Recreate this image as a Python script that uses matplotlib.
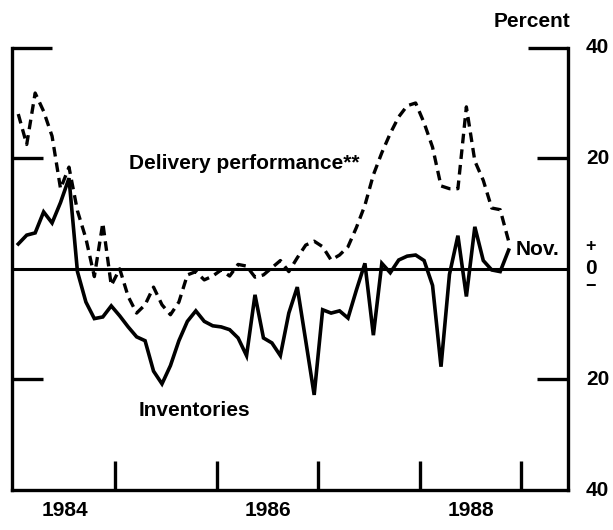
import numpy as np
import matplotlib
matplotlib.use("Agg")
import matplotlib.pyplot as plt
import matplotlib.transforms as mtransforms

plt.rcParams['font.family'] = ['Liberation Sans', 'DejaVu Sans']
plt.rcParams['font.weight'] = 'bold'
plt.rcParams['font.size'] = 15

# monthly, Jan 1984 - Nov 1988 (percent)
inventories = [4.5, 6.1, 6.5, 10.3, 8.3, 12.0, 16.4, -0.5, -6.0, -9.0,
               -8.7, -6.7, -8.5, -10.5, -12.3, -13.0, -18.5, -20.8, -17.5, -13.0,
               -9.5, -7.6, -9.5, -10.3, -10.5, -11.0, -12.5, -15.7, -4.7, -12.5,
               -13.4, -15.7, -8.0, -3.3, -13.0, -22.8, -7.4, -8.0, -7.6, -8.9,
               -3.8, 1.0, -12.0, 1.0, -0.7, 1.6, 2.3, 2.5, 1.5, -3.0,
               -17.7, -1.0, 6.0, -5.0, 7.6, 1.5, -0.2, -0.5, 3.4]
delivery = [28.0, 22.5, 31.8, 28.5, 24.0, 14.5, 18.4, 10.5, 5.5, -1.4,
            8.3, -3.0, 0.0, -5.0, -8.0, -6.5, -3.3, -6.5, -8.3, -6.0,
            -1.1, -0.5, -2.0, -1.3, -0.2, -1.3, 0.8, 0.5, -1.5, -1.1,
            0.2, 1.5, -0.5, 2.0, 4.3, 5.0, 4.0, 1.6, 2.5, 4.0,
            7.5, 11.5, 17.0, 21.0, 24.5, 27.5, 29.5, 30.0, 26.4, 22.0,
            15.0, 14.5, 14.5, 29.3, 19.5, 16.0, 11.0, 10.7, 5.0]
year_labels = ['1984', '1986', '1988']
right_labels = ['40', '20', '20', '40']

months = np.arange(len(inventories))
t = 1984 + (months + 0.5) / 12

fig = plt.figure(figsize=(6.13, 5.30), dpi=100)
ax = fig.add_axes([12 / 613, 1 - 490 / 530, 556 / 613, (490 - 47.7) / 530])

ax.plot(t, inventories, color='black', lw=2.6, solid_joinstyle='miter')
ax.plot(t, delivery, color='black', lw=2.4, dashes=(2.9, 1.8), dash_capstyle='butt')
ax.axhline(0, color='black', lw=2.2)

ax.set_xlim(1983.98, 1989.46)
ax.set_ylim(-40, 40)

for side in ['left', 'right', 'bottom']:
    ax.spines[side].set_linewidth(2.4)
ax.spines['top'].set_visible(False)

ax.set_yticks([-20, 20])
ax.set_yticks([40], minor=True)
ax.tick_params(axis='y', which='major', direction='in', length=22, width=2.4,
               left=True, right=True, labelleft=False, labelright=False)
ax.tick_params(axis='y', which='minor', direction='in', length=29, width=2.4,
               left=True, right=True, labelleft=False, labelright=False)

ax.set_xticks([1985, 1986, 1987, 1988, 1989])
ax.set_xticks([1984.5, 1986.5, 1988.5], minor=True)
ax.set_xticklabels(year_labels, minor=True)
ax.tick_params(axis='x', which='major', direction='in', length=21, width=2.4, labelbottom=False)
ax.tick_params(axis='x', which='minor', length=0, pad=8)

# right-hand scale
trans = mtransforms.blended_transform_factory(ax.transAxes, ax.transData)
for y, lab in zip([40, 20, -20, -40], right_labels):
    ax.text(1.032, y, lab, transform=trans, ha='left', va='center')
ax.text(1.041, 0, '0', transform=trans, ha='center', va='center')
ax.text(1.041, 4, '+', transform=trans, ha='center', va='center', fontsize=13)
ax.text(1.041, -3.2, '\u2212', transform=trans, ha='center', va='center', fontsize=13)

ax.text(1.004, 1.047, 'Percent', transform=ax.transAxes, ha='right', va='baseline')
ax.text(0.210, 0.726, 'Delivery performance**', transform=ax.transAxes, va='baseline')
ax.text(0.227, 0.167, 'Inventories', transform=ax.transAxes, va='baseline')
ax.text(0.906, 0.531, 'Nov.', transform=ax.transAxes, va='baseline')

fig.savefig('out.png', dpi=100)
